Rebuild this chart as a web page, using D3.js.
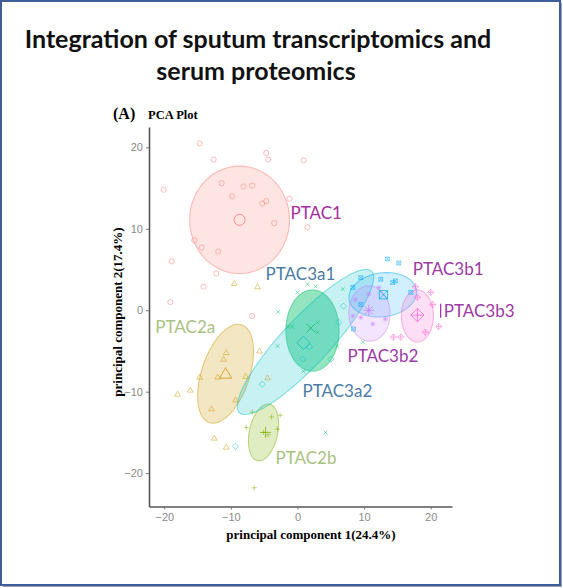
<!DOCTYPE html>
<html>
<head>
<meta charset="utf-8">
<script src="https://cdn.jsdelivr.net/npm/d3@7"></script>
<style>
  body { margin: 0; background: #fff; }
  svg { display: block; }
</style>
</head>
<body>
<svg id="chart"></svg>
<script>
// groups, in ggplot order
const groups = ["PTAC1", "PTAC2a", "PTAC2b", "PTAC3a1", "PTAC3a2", "PTAC3b1", "PTAC3b2", "PTAC3b3"];
const groupColors = ["#F8766D", "#CD9600", "#7CAE00", "#00BE67", "#00BFC4", "#00A9FF", "#C77CFF", "#FF61CC"];
const groupShapes = ["circle", "triangle", "plus", "cross", "diamond", "squarecross", "asterisk", "diamondplus"];

// sample scores [PC1, PC2] per group
const pointsPTAC1 = [[-14.7, 20.5], [-12.6, 18.5], [-20.1, 14.8], [-4.7, 19.3], [-4.4, 18.5], [0.9, 18.4],
  [-11.4, 15.6], [-8.1, 15.2], [-6.8, 15.3], [-9.8, 14.0], [-5.3, 13.1], [-4.7, 13.4], [-3.5, 10.7],
  [1.5, 10.2], [-1.2, 13.7], [-15.5, 8.6], [-14.4, 7.7], [-11.9, 7.2], [-18.9, 6.0], [-12.2, 4.5],
  [-14.1, 2.9], [-19.1, 1.0], [-6.8, -0.7]];
const pointsPTAC2a = [[-9.5, 3.3], [-6.0, 2.9], [-10.7, -5.2], [-11.1, -6.0], [-5.7, -5.0], [-14.7, -8.2],
  [-12.0, -8.2], [-7.8, -8.1], [-4.5, -8.3], [-16.1, -9.8], [-18.0, -10.3], [-9.3, -11.0], [-12.9, -12.1],
  [-12.5, -15.7], [-10.7, -16.8]];
const pointsPTAC2b = [[-6.8, -12.5], [-7.7, -14.4], [-3.9, -13.1], [-2.6, -12.9], [-5.1, -15.0], [-4.4, -15.3],
  [-3.0, -14.6], [-6.5, -21.8]];
const pointsPTAC3a1 = [[1.5, 3.2], [2.7, 2.9], [0.0, 2.2], [6.8, 2.6], [-2.9, -0.2], [-1.4, -2.0], [-0.8, -2.0],
  [3.0, -1.5], [3.0, -2.7], [-3.0, -4.4], [6.0, -4.4], [0.9, -7.5], [9.8, -3.9], [4.2, -15.0]];
const pointsPTAC3a2 = [[6.9, 0.5], [1.8, -4.5], [6.2, -1.5], [0.8, -6.0], [5.0, -6.0], [-5.3, -9.1], [-9.3, -16.7]];
const pointsPTAC3b1 = [[13.5, 6.3], [15.2, 5.8], [9.5, 4.0], [12.5, 3.8], [14.3, 3.4], [14.7, 3.6], [8.3, 2.8],
  [9.5, 0.7], [17.0, 2.2], [8.4, -2.3]];
const pointsPTAC3b2 = [[8.3, -0.7], [9.5, -0.9], [11.3, -1.7], [12.2, 2.8], [10.7, 2.0], [13.2, -1.1], [8.7, 1.3]];
const pointsPTAC3b3 = [[17.7, 2.9], [18.0, 1.6], [20.3, 0.7], [21.2, -2.0], [19.2, -2.7], [14.4, -3.3],
  [15.5, -3.3], [20.0, 2.2]];
const groupPoints = [pointsPTAC1, pointsPTAC2a, pointsPTAC2b, pointsPTAC3a1, pointsPTAC3a2,
  pointsPTAC3b1, pointsPTAC3b2, pointsPTAC3b3];

// group centroids (big markers)
const centroids = [[-8.7, 11.1], [-10.8, -7.8], [-4.8, -15.0], [2.0, -2.2], [0.9, -4.0], [12.9, 1.9], [10.7, 0.0], [18.0, -0.6]];

// confidence ellipses: [cx, cy, semi-axis a, semi-axis b, angle deg] in PC units
const ellipseParams = [[-8.7, 11.1, 7.5, 6.6, 0], [-10.8, -7.8, 6.5, 3.5, 65], [-5.1, -15.0, 3.6, 2.1, 73],
  [2.25, -2.5, 5.0, 4.0, 90], [1.2, -3.9, 13.2, 3.2, 40.5], [12.8, 1.9, 5.1, 2.7, 5],
  [10.8, -0.4, 3.4, 3.1, 95], [18.0, -0.7, 3.2, 2.4, 90]];

// group labels: where each label starts (PC units)
const labelAnchors = [[-1.05, 11.2], [-21.35, -2.8], [-3.3, -18.9], [-4.8, 3.7], [0.75, -10.6],
  [17.3, 4.35], [7.5, -6.3], [21.95, -0.8]];
const labelColors = ["#a42c9c", "#a9c281", "#a9c281", "#4a7ba6", "#4a7ba6", "#9c3aa5", "#9c3aa5", "#9c3aa5"];

const xTicks = [-20, -10, 0, 10, 20];
const yTicks = [-20, -10, 0, 10, 20];

const width = 563;
const height = 588;

const svg = d3.select("#chart")
  .attr("width", width)
  .attr("height", height);

// frame with a small shadow
svg.append("rect")
  .attr("x", 3).attr("y", 3).attr("width", width - 4).attr("height", height - 4)
  .attr("fill", "#9aa3b3");
svg.append("rect")
  .attr("x", 1).attr("y", 1).attr("width", width - 4).attr("height", height - 4)
  .attr("fill", "#fff")
  .attr("stroke", "#3f5e99")
  .attr("stroke-width", 2);

// title
const title = svg.append("text")
  .attr("text-anchor", "middle")
  .style("font-family", "Lato, 'Open Sans', sans-serif")
  .style("font-weight", "bold")
  .style("font-size", "25px")
  .attr("fill", "#111");
title.append("tspan").attr("x", 258).attr("y", 48).text("Integration of sputum transcriptomics and");
title.append("tspan").attr("x", 256).attr("y", 80).text("serum proteomics");

svg.append("text")
  .attr("x", 113).attr("y", 119)
  .style("font-family", "'Liberation Serif', 'Times New Roman', serif")
  .style("font-weight", "bold")
  .style("font-size", "16px")
  .text("(A)");
svg.append("text")
  .attr("x", 148).attr("y", 119)
  .style("font-family", "'Liberation Serif', 'Times New Roman', serif")
  .style("font-weight", "bold")
  .style("font-size", "12.5px")
  .text("PCA Plot");

const x = d3.scaleLinear().domain([-22.3, 23.2]).range([149, 452]);
const y = d3.scaleLinear().domain([-24.1, 22.5]).range([506.5, 127]);

// axes
const xAxis = svg.append("g")
  .attr("transform", `translate(0,${y.range()[0]})`)
  .call(d3.axisBottom(x).tickValues(xTicks).tickSize(3).tickPadding(4).tickSizeOuter(0));
const yAxis = svg.append("g")
  .attr("transform", `translate(${x.range()[0]},0)`)
  .call(d3.axisLeft(y).tickValues(yTicks).tickSize(3).tickPadding(3).tickSizeOuter(0));

[xAxis, yAxis].forEach(ax => {
  ax.select(".domain").attr("stroke", "#555").attr("stroke-width", 1.6);
  ax.selectAll(".tick line").attr("stroke", "#777");
  ax.selectAll(".tick text")
    .attr("fill", "#8a8a8a")
    .style("font-family", "'Liberation Sans', Arial, sans-serif")
    .style("font-size", "11px");
});

svg.append("text")
  .attr("x", 311).attr("y", 539)
  .attr("text-anchor", "middle")
  .style("font-family", "'Liberation Serif', 'Times New Roman', serif")
  .style("font-weight", "bold")
  .style("font-size", "13px")
  .text("principal component 1(24.4%)");
svg.append("text")
  .attr("transform", "translate(122,312) rotate(-90)")
  .attr("text-anchor", "middle")
  .style("font-family", "'Liberation Serif', 'Times New Roman', serif")
  .style("font-weight", "bold")
  .style("font-size", "13px")
  .text("principal component 2(17.4%)");

// ellipses
const plot = svg.append("g");
const ellipseLine = d3.line().curve(d3.curveLinearClosed);

function ellipsePath(p) {
  const [cx, cy, a, b, deg] = p;
  const th = deg * Math.PI / 180;
  const pts = d3.range(0, 120).map(i => {
    const t = i / 120 * 2 * Math.PI;
    const ex = a * Math.cos(t), ey = b * Math.sin(t);
    const dx = cx + ex * Math.cos(th) - ey * Math.sin(th);
    const dy = cy + ex * Math.sin(th) + ey * Math.cos(th);
    return [x(dx), y(dy)];
  });
  return ellipseLine(pts);
}

const fillOpacity = [0.2, 0.24, 0.24, 0.42, 0.22, 0.18, 0.2, 0.2];

plot.append("g")
  .selectAll("path")
  .data(ellipseParams)
  .enter().append("path")
  .attr("d", ellipsePath)
  .attr("fill", (d, i) => groupColors[i])
  .attr("fill-opacity", (d, i) => fillOpacity[i])
  .attr("stroke", (d, i) => groupColors[i])
  .attr("stroke-opacity", 0.45)
  .attr("stroke-width", 1.1);

// marker shapes (open, like ggplot shapes 1..9)
function shapePath(shape, s) {
  const circ = `M${-s},0A${s},${s} 0 1,0 ${s},0A${s},${s} 0 1,0 ${-s},0Z`;
  const plus = `M${-s},0H${s}M0,${-s}V${s}`;
  const k = s * 0.75;
  const cross = `M${-k},${-k}L${k},${k}M${-k},${k}L${k},${-k}`;
  const diamond = `M0,${-s * 1.2}L${s * 1.2},0L0,${s * 1.2}L${-s * 1.2},0Z`;
  switch (shape) {
    case "circle": return circ;
    case "triangle": return `M0,${-s * 1.1}L${s * 1.1},${s * 0.8}L${-s * 1.1},${s * 0.8}Z`;
    case "plus": return plus;
    case "cross": return cross;
    case "diamond": return diamond;
    case "squarecross": return `M${-k},${-k}H${k}V${k}H${-k}Z` + cross;
    case "asterisk": return plus + cross;
    case "diamondplus": return diamond + `M${-s * 1.2},0H${s * 1.2}M0,${-s * 1.2}V${s * 1.2}`;
  }
}

const markers = plot.append("g");
groupPoints.forEach((pts, gi) => {
  markers.selectAll(null)
    .data(pts)
    .enter().append("path")
    .attr("transform", d => `translate(${x(d[0])},${y(d[1])})`)
    .attr("d", shapePath(groupShapes[gi], 2.6))
    .attr("fill", "none")
    .attr("stroke", groupColors[gi])
    .attr("stroke-opacity", 0.6)
    .attr("stroke-width", 0.8);
});

markers.selectAll(null)
  .data(centroids)
  .enter().append("path")
  .attr("transform", d => `translate(${x(d[0])},${y(d[1])})`)
  .attr("d", (d, i) => shapePath(groupShapes[i], 5.5))
  .attr("fill", "none")
  .attr("stroke", (d, i) => groupColors[i])
  .attr("stroke-opacity", 0.75)
  .attr("stroke-width", 1);

// group labels
const labels = svg.append("g");
labels.selectAll("text")
  .data(groups)
  .enter().append("text")
  .attr("x", (d, i) => x(labelAnchors[i][0]))
  .attr("y", (d, i) => y(labelAnchors[i][1]))
  .attr("fill", (d, i) => labelColors[i])
  .style("font-family", "Lato, 'Open Sans', sans-serif")
  .style("font-size", "17px")
  .text(d => d);

// little leader bar in front of PTAC3b3
const i3 = groups.indexOf("PTAC3b3");
labels.append("line")
  .attr("x1", x(labelAnchors[i3][0]) - 3).attr("x2", x(labelAnchors[i3][0]) - 3)
  .attr("y1", y(labelAnchors[i3][1]) - 13).attr("y2", y(labelAnchors[i3][1]) + 1)
  .attr("stroke", labelColors[i3])
  .attr("stroke-width", 1.3);
</script>
</body>
</html>
